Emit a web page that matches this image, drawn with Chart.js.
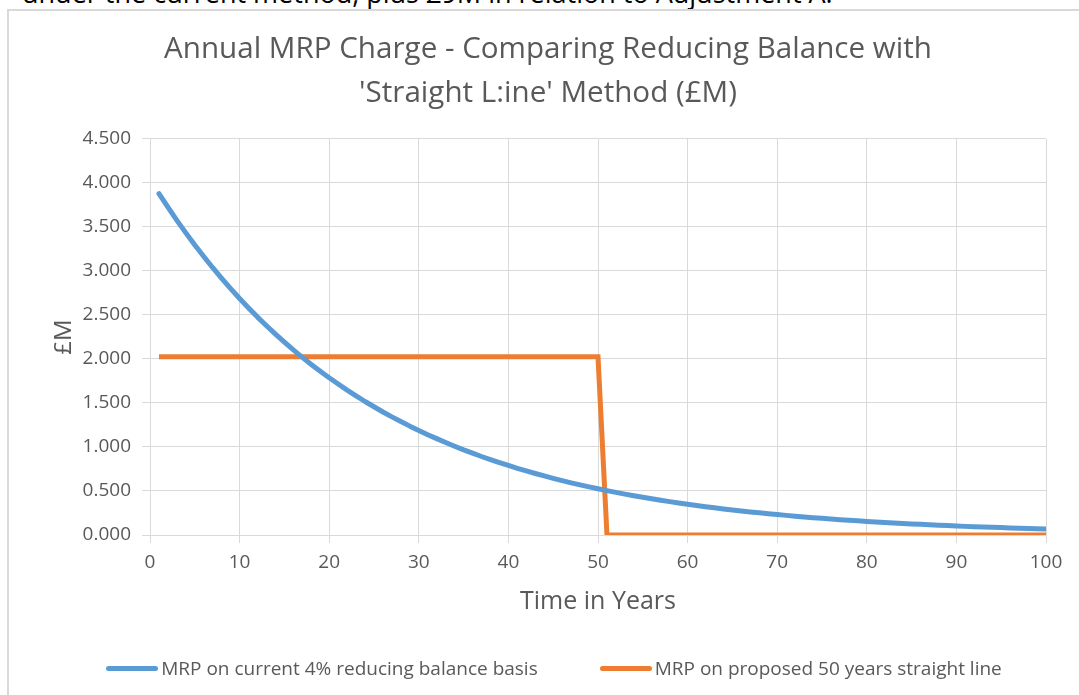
<!DOCTYPE html>
<html>
<head>
<meta charset="utf-8">
<script src="https://cdn.jsdelivr.net/npm/chart.js@4.4.1/dist/chart.umd.min.js"></script>
<style>
  html, body { margin: 0; padding: 0; background: #fff; width: 1079px; height: 695px; overflow: hidden; }
  #toptext { position: absolute; left: 22px; top: -21px; font: 27px/27px "Open Sans", sans-serif; color: #000; white-space: nowrap; }
  #frame { position: absolute; left: 7px; top: 9px; width: 1200px; height: 800px; border-top: 2px solid #d9d9d9; border-left: 2px solid #d9d9d9; }
  #wrap { position: absolute; left: 0; top: 0; width: 1079px; height: 695px; }
  #legend { position: absolute; left: 4px; width: 1100px; top: 655px; display: flex; justify-content: center; align-items: center; font: 19px "Open Sans", sans-serif; color: #595959; }
  .item { display: flex; align-items: center; margin: 0 31px; white-space: nowrap; }
  .mark { width: 52px; height: 5px; border-radius: 3px; margin-right: 3px; }
</style>
</head>
<body>
<div id="toptext">under the current method, plus £9M in relation to Adjustment A.</div>
<div id="frame"></div>
<div id="wrap"><canvas id="c" width="1079" height="695"></canvas></div>
<div id="legend"></div>
<script>
const chartTitle = ["Annual MRP Charge - Comparing Reducing Balance with", "'Straight L:ine' Method (£M)"];
const xTitle = "Time in Years";
const yTitle = "£M";
const seriesNames = ["MRP on current 4% reducing balance basis", "MRP on proposed 50 years straight line"];
const seriesColors = ["#5B9BD5", "#ED7D31"];

const years = [1,2,3,4,5,6,7,8,9,10,11,12,13,14,15,16,17,18,19,20,
  21,22,23,24,25,26,27,28,29,30,31,32,33,34,35,36,37,38,39,40,
  41,42,43,44,45,46,47,48,49,50,51,52,53,54,55,56,57,58,59,60,
  61,62,63,64,65,66,67,68,69,70,71,72,73,74,75,76,77,78,79,80,
  81,82,83,84,85,86,87,88,89,90,91,92,93,94,95,96,97,98,99,100];

const reducingBalance = [3.880,3.725,3.576,3.433,3.295,3.164,3.037,2.916,2.799,2.687,
  2.580,2.476,2.377,2.282,2.191,2.103,2.019,1.938,1.861,1.786,
  1.715,1.646,1.581,1.517,1.457,1.398,1.342,1.289,1.237,1.188,
  1.140,1.095,1.051,1.009,0.968,0.930,0.892,0.857,0.823,0.790,
  0.758,0.728,0.699,0.671,0.644,0.618,0.593,0.570,0.547,0.525,
  0.504,0.484,0.464,0.446,0.428,0.411,0.394,0.379,0.364,0.349,
  0.335,0.322,0.309,0.296,0.285,0.273,0.262,0.252,0.242,0.232,
  0.223,0.214,0.205,0.197,0.189,0.182,0.174,0.167,0.161,0.154,
  0.148,0.142,0.136,0.131,0.126,0.121,0.116,0.111,0.107,0.103,
  0.098,0.095,0.091,0.087,0.084,0.080,0.077,0.074,0.071,0.068];

const straightLine = [2.025,2.025,2.025,2.025,2.025,2.025,2.025,2.025,2.025,2.025,
  2.025,2.025,2.025,2.025,2.025,2.025,2.025,2.025,2.025,2.025,
  2.025,2.025,2.025,2.025,2.025,2.025,2.025,2.025,2.025,2.025,
  2.025,2.025,2.025,2.025,2.025,2.025,2.025,2.025,2.025,2.025,
  2.025,2.025,2.025,2.025,2.025,2.025,2.025,2.025,2.025,2.025,
  0,0,0,0,0,0,0,0,0,0,
  0,0,0,0,0,0,0,0,0,0,
  0,0,0,0,0,0,0,0,0,0,
  0,0,0,0,0,0,0,0,0,0,
  0,0,0,0,0,0,0,0,0,0];

Chart.defaults.font.family = "'Open Sans', sans-serif";
Chart.defaults.color = "#595959";

const toPoints = (vals) => vals.map((v, i) => ({x: years[i], y: v}));

const chart = new Chart(document.getElementById('c'), {
  type: 'line',
  data: {
    datasets: [
      { label: seriesNames[0], data: toPoints(reducingBalance), borderColor: seriesColors[0], backgroundColor: seriesColors[0],
        borderWidth: 5, pointRadius: 0, tension: 0, borderCapStyle: 'round', borderJoinStyle: 'round', fill: false },
      { label: seriesNames[1], data: toPoints(straightLine), borderColor: seriesColors[1], backgroundColor: seriesColors[1],
        borderWidth: 5, pointRadius: 0, tension: 0, borderCapStyle: 'butt', borderJoinStyle: 'miter', fill: false }
    ]
  },
  options: {
    responsive: false,
    animation: false,
    devicePixelRatio: 1,
    layout: { padding: { left: 50, right: 33, top: 0, bottom: 70 } },
    plugins: {
      legend: { display: false },
      tooltip: { enabled: false },
      title: {
        display: true,
        text: chartTitle,
        color: '#595959',
        font: { size: 29.6, weight: 'normal', lineHeight: 1.486 },
        padding: { top: 28, bottom: 23 }
      }
    },
    scales: {
      x: {
        type: 'linear',
        min: 0, max: 100,
        ticks: { stepSize: 10, font: { size: 19 }, color: '#595959', padding: 8, maxRotation: 0 },
        grid: { color: '#d9d9d9', lineWidth: 1, tickLength: 8, drawTicks: true },
        border: { color: '#d9d9d9' },
        title: { display: true, text: xTitle, color: '#595959', font: { size: 25 }, padding: { top: 0, bottom: 8 } },
        afterFit: (s) => { s.height = 90; }
      },
      y: {
        min: 0, max: 4.5,
        ticks: { stepSize: 0.5, font: { size: 19 }, color: '#595959', padding: 11, callback: (v) => Number(v).toFixed(3) },
        grid: { color: '#d9d9d9', lineWidth: 1, tickLength: 8, drawTicks: true },
        border: { color: '#d9d9d9' },
        title: { display: true, text: yTitle, color: '#595959', font: { size: 24 }, padding: { top: 0, bottom: 0 } },
        afterFit: (s) => { s.width = 100; }
      }
    }
  }
});

// HTML legend built from the datasets
const lg = document.getElementById('legend');
chart.data.datasets.forEach(ds => {
  const it = document.createElement('div'); it.className = 'item';
  const mk = document.createElement('span'); mk.className = 'mark'; mk.style.background = ds.borderColor;
  const tx = document.createElement('span'); tx.textContent = ds.label;
  it.appendChild(mk); it.appendChild(tx); lg.appendChild(it);
});
</script>
</body>
</html>
